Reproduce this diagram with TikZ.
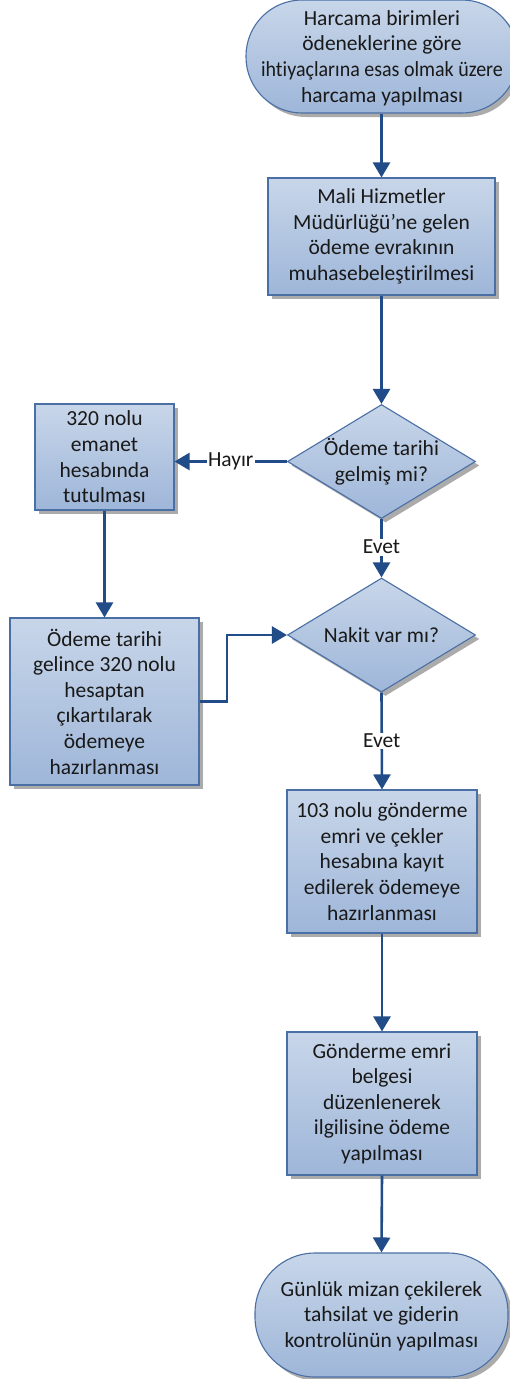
\documentclass[tikz,border=0pt]{standalone}
\usepackage{fontspec}
\setmainfont{Carlito}[Ligatures=NoCommon]
\usetikzlibrary{shapes.geometric,shadows,arrows.meta}
\definecolor{fillTop}{HTML}{C8D6E9}
\definecolor{fillBot}{HTML}{9EB6D9}
\definecolor{edgeC}{HTML}{4A6FA5}
\definecolor{arrC}{HTML}{214C88}
\definecolor{shadowC}{HTML}{ABABAB}
\begin{document}
\begin{tikzpicture}[x=1pt,y=-1pt,
  base/.style={draw=edgeC, line width=1.1pt, top color=fillTop, bottom color=fillBot,
    drop shadow={shadow xshift=4pt, shadow yshift=-4pt, fill=shadowC, opacity=1},
    inner sep=0pt, font=\fontsize{21.5}{25.6}\selectfont, text=black!90, align=center},
  procbox/.style={base, rectangle},
  termbox/.style={base, rectangle, rounded corners=56pt},
  decbox/.style={base, diamond, minimum width=188pt, minimum height=114pt},
  txt/.style={inner sep=0pt, font=\fontsize{21.5}{25.6}\selectfont, text=black!90, align=center},
  lbl/.style={fill=white, inner sep=1.5pt, font=\fontsize{21.5}{24}\selectfont, text=black!90},
  arr/.style={draw=arrC, line width=2.6pt, -{Triangle[width=17pt,length=15pt]}}
]
\useasboundingbox (0,0) rectangle (510,1379);
\fill[white] (0,0) rectangle (510,1379);

% top terminal
\node[termbox, minimum width=272pt, minimum height=113pt] (t1) at (382,56.5) {};
\node[txt] (t1t) at (382,58) {Harcama birimleri\\ödeneklerine göre\\\scalebox{0.93}[1]{ihtiyaçlarına esas olmak üzere}\\harcama yapılması};

% process 1
\node[procbox, minimum width=227pt, minimum height=117pt] (p1) at (381.5,236.5) {Mali Hizmetler\\Müdürlüğü’ne gelen\\ödeme evrakının\\muhasebeleştirilmesi};

% decision 1
\node[decbox] (d1) at (381.5,461.5) {};
\node[txt] (d1t) at (381.5,461.5) {Ödeme tarihi\\gelmiş mi?};

% box 320
\node[procbox, minimum width=139pt, minimum height=106pt] (b320) at (104.5,457) {320 nolu\\emanet\\hesabında\\tutulması};

% box 3
\node[procbox, minimum width=189pt, minimum height=167pt] (b3) at (104.5,701.5) {Ödeme tarihi\\gelince 320 nolu\\hesaptan\\çıkartılarak\\ödemeye\\hazırlanması};

% decision 2
\node[decbox] (d2) at (381.5,635) {};
\node[txt] (d2t) at (381.5,635) {Nakit var mı?};

% process 4
\node[procbox, minimum width=190pt, minimum height=143pt] (p4) at (382,861.5) {103 nolu gönderme\\emri ve çekler\\hesabına kayıt\\edilerek ödemeye\\hazırlanması};

% process 5
\node[procbox, minimum width=190pt, minimum height=143pt] (p5) at (382,1103.5) {Gönderme emri\\belgesi\\düzenlenerek\\ilgilisine ödeme\\yapılması};

% bottom terminal
\node[termbox, minimum width=253pt, minimum height=124pt, rounded corners=60pt] (t2) at (381.5,1315) {};
\node[txt] (t2t) at (381.5,1316) {Günlük mizan çekilerek\\tahsilat ve giderin\\kontrolünün yapılması};

% connectors
\draw[arr] (t1.south -| p1.north) -- (p1.north);
\draw[arr] (p1.south) -- (d1.north);
\draw[arr] (d1.west) -- (d1.west -| b320.east) node[lbl, pos=0.5] (hayir) {Hayır};
\draw[arr] (d1.south) -- (d2.north) node[lbl, pos=0.48] (evet1) {Evet};
\draw[arr] (b320.south) -- (b3.north);
\coordinate (bend) at (227,701.5);
\draw[arr] (b3.east) -- (bend) |- (d2.west);
\draw[arr] (d2.south) -- (p4.north) node[lbl, pos=0.5] (evet2) {Evet};
\draw[arr] (p4.south) -- (p5.north);
\draw[arr] (p5.south) -- (t2.north);
\end{tikzpicture}
\end{document}
